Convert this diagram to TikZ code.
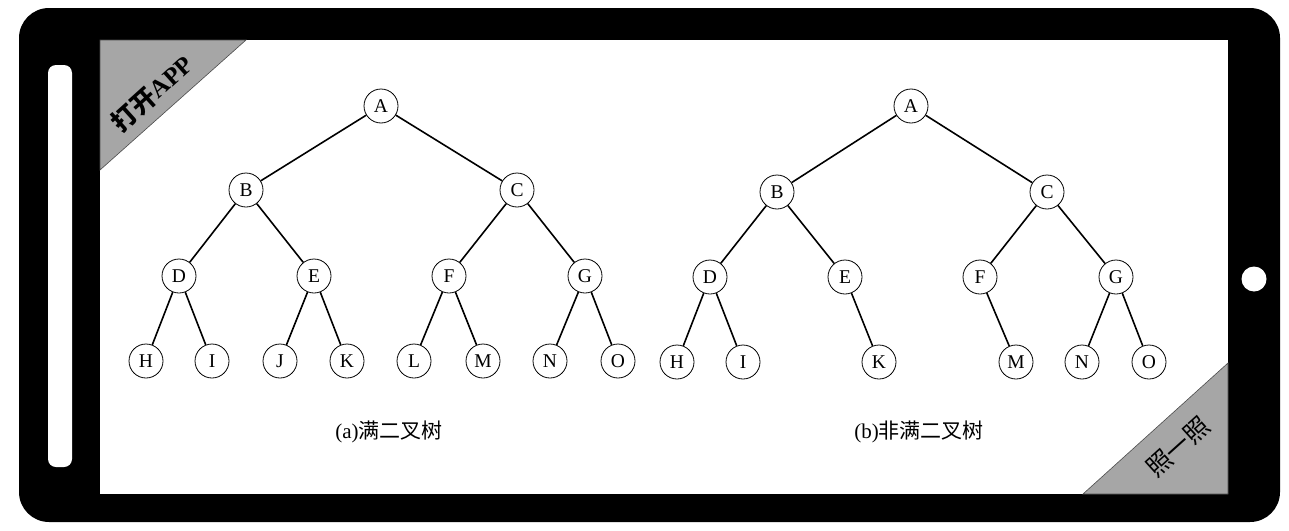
\documentclass[tikz,border=0pt]{standalone}
\usepackage{fontspec}
\setmainfont{Liberation Serif}
\newfontfamily\cjk{Noto Sans CJK SC}
\begin{document}
\begin{tikzpicture}[x=1pt,y=-1pt,
  tnode/.style={circle,draw,line width=0.8pt,minimum size=34pt,inner sep=0pt,font=\fontsize{19.5}{19.5}\selectfont},
  edge/.style={line width=1.6pt},
  corner/.style={fill=black!35,draw=black!70,line width=0.6pt},
  caption/.style={font=\fontsize{21}{21}\selectfont}]
\useasboundingbox (0,0) rectangle (1289,530);
% phone body and screen
\fill[rounded corners=30pt] (19,8) rectangle (1280,522);
\fill[white] (100,40) rectangle (1228,494);
\fill[white,rounded corners=8pt] (48,65) rectangle (72,467);
\fill[white] (1254,279) circle (12.5);
% corner badges
\path[corner] (100,40) -- (246,40) -- (100,170) -- cycle;
\node[rotate=42,inner sep=0pt,font=\fontsize{25}{25}\selectfont\bfseries] (open) at (152,93) {{\cjk 打开}APP};
\path[corner] (1228,363) -- (1228,494) -- (1083,494) -- cycle;
\node[rotate=42,inner sep=0pt,font=\cjk\fontsize{25}{25}\selectfont] (look) at (1178,447) {照一照};
% full binary tree
\foreach \n/\x/\y in {A/381/106,B/246/190,C/517/190,D/179/276,E/314/276,F/449/276,G/585/276,
  H/146/361,I/212/361,J/280/361,K/347/361,L/414/361,M/483/361,N/550/361,O/618/361}
  \node[tnode] (a\n) at (\x,\y) {\n};
\foreach \p/\c in {A/B,A/C,B/D,B/E,C/F,C/G,D/H,D/I,E/J,E/K,F/L,F/M,G/N,G/O}
  \draw[edge] (a\p) -- (a\c);
% non-full binary tree
\foreach \n/\x/\y in {A/911/106,B/777/192,C/1047/192,D/710/277,E/845/277,F/980/277,G/1116/277,
  H/677/362,I/743/362,K/879/362,M/1016/362,N/1082/362,O/1149/362}
  \node[tnode] (b\n) at (\x,\y) {\n};
\foreach \p/\c in {A/B,A/C,B/D,B/E,C/F,C/G,D/H,D/I,E/K,F/M,G/N,G/O}
  \draw[edge] (b\p) -- (b\c);
% captions
\node[caption] (capa) at (389,432) {(a){\cjk 满二叉树}};
\node[caption] (capb) at (919,432) {(b){\cjk 非满二叉树}};
\end{tikzpicture}
\end{document}
